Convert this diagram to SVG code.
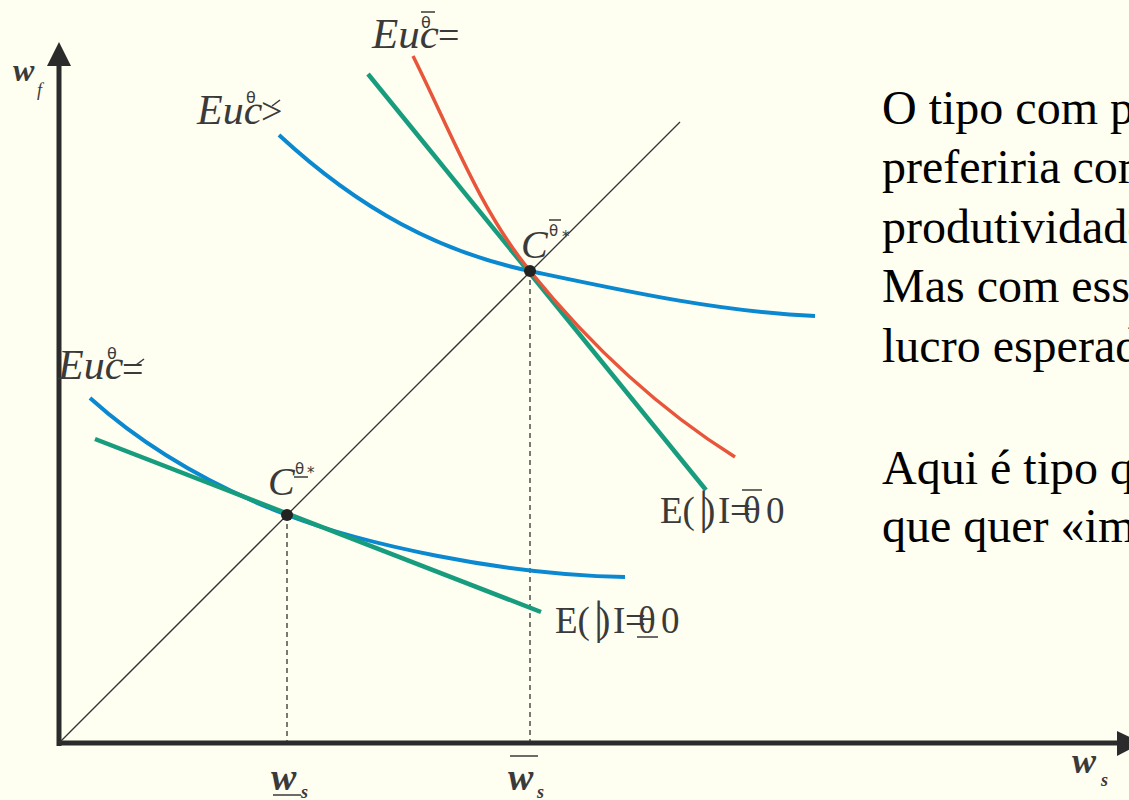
<svg xmlns="http://www.w3.org/2000/svg" width="1129" height="800" viewBox="0 0 1129 800">
<style>
.lbl{font-family:"Liberation Serif","Times New Roman",serif;fill:#3a3a3a}
.it{font-style:italic}
.sm{font-family:"DejaVu Sans","Liberation Sans",sans-serif;fill:#3a3a3a}
.body{font-family:"Liberation Serif","Times New Roman",serif;font-size:48px;fill:#000}
.axis{stroke:#2b2b2b;stroke-width:5;fill:none}
.dash{stroke:#333;stroke-width:1.3;stroke-dasharray:5 4;fill:none}
.blue{stroke:#0a88d0;stroke-width:4;fill:none}
.green{stroke:#179c7d;stroke-width:4.5;fill:none}
.red{stroke:#e8553a;stroke-width:3.5;fill:none}
.bar{stroke:#3a3a3a;stroke-width:1.5}
</style>
<rect width="1129" height="800" fill="#fefef1"/>

<g id="axes">
<line class="axis" x1="59" y1="746" x2="59" y2="64"/>
<polygon points="59,42 47,66 71,66" fill="#2b2b2b"/>
<line class="axis" x1="57" y1="743" x2="1120" y2="743"/>
<polygon points="1117,731 1117,756 1142,743" fill="#2b2b2b"/>
<text class="lbl it" x="13" y="81" font-size="32" font-weight="bold">w</text>
<text class="lbl it" x="37" y="96" font-size="18">f</text>
<text class="lbl it" x="1072" y="773" font-size="36" font-weight="bold">w</text>
<text class="lbl it" x="1101" y="786" font-size="18" font-weight="bold">s</text>
</g>

<g id="connectors">
<line x1="59" y1="743" x2="680" y2="122" stroke="#333" stroke-width="1.3"/>
<line class="dash" x1="287" y1="515" x2="287" y2="741"/>
<line class="dash" x1="530" y1="271" x2="530" y2="741"/>
<path class="blue" d="M279,135 C360,210 440,252 530,271 C620,290 720,312 815,316"/>
<path class="blue" d="M90,398 C150,452 222,490 287,515 C360,543 500,575 625,577"/>
<line class="green" x1="368" y1="74" x2="706" y2="490"/>
<line class="green" x1="95" y1="439" x2="541" y2="612"/>
<path class="red" d="M413,56 C450,130 480,210 530,271 C590,345 660,410 735,457"/>
</g>

<g id="point-upper">
<circle cx="530" cy="271" r="6" fill="#222"/>
<text class="lbl it" x="521" y="258" font-size="40">C</text>
<text class="sm" x="549" y="236" font-size="15">θ</text>
<line class="bar" x1="549" y1="220" x2="561" y2="220"/>
<text class="sm" x="562" y="242" font-size="15">*</text>
</g>

<g id="point-lower">
<circle cx="287" cy="515" r="6" fill="#222"/>
<text class="lbl it" x="268" y="495" font-size="40">C</text>
<text class="sm" x="295" y="474" font-size="15">θ</text>
<line class="bar" x1="294" y1="477" x2="308" y2="477"/>
<text class="sm" x="307" y="478" font-size="15">*</text>
</g>

<g id="label-top">
<text class="lbl it" x="372" y="48" font-size="43">Euc</text>
<text class="sm" x="421" y="28" font-size="16">θ</text>
<line class="bar" x1="421" y1="12" x2="435" y2="12"/>
<text class="lbl" x="438" y="48" font-size="38">=</text>
</g>

<g id="label-mid">
<text class="lbl it" x="197" y="124" font-size="42">Euc</text>
<text class="sm" x="246" y="103" font-size="16">θ</text>
<text class="lbl" x="261" y="124" font-size="38">&gt;</text>
<path d="M272,106 L280,100" stroke="#3a3a3a" stroke-width="1.5"/>
</g>

<g id="label-low">
<text class="lbl it" x="58" y="379" font-size="42">Euc</text>
<text class="sm" x="107" y="359" font-size="16">θ</text>
<text class="lbl" x="122" y="382" font-size="38">=</text>
<path d="M136,365 L144,359" stroke="#3a3a3a" stroke-width="1.5"/>
</g>

<g id="label-profit-upper">
<text class="lbl" y="523" font-size="37"><tspan x="660">E(</tspan><tspan x="699" font-size="46">|</tspan><tspan x="703">)</tspan><tspan x="718">I</tspan><tspan x="730">=</tspan><tspan x="743">θ</tspan><tspan x="766">0</tspan></text>
<line class="bar" x1="742" y1="490" x2="762" y2="490"/>
</g>

<g id="label-profit-lower">
<text class="lbl" y="633" font-size="37"><tspan x="555">E(</tspan><tspan x="594" font-size="46">|</tspan><tspan x="598">)</tspan><tspan x="613">I</tspan><tspan x="625">=</tspan><tspan x="638">θ</tspan><tspan x="661">0</tspan></text>
<line class="bar" x1="637" y1="637" x2="658" y2="637"/>
</g>

<g id="ticks">
<text class="lbl it" x="271" y="790" font-size="38" font-weight="bold">w</text>
<line class="bar" x1="273" y1="795" x2="301" y2="795" stroke-width="2"/>
<text class="lbl it" x="301" y="798" font-size="18" font-weight="bold">s</text>
<text class="lbl it" x="508" y="790" font-size="38" font-weight="bold">w</text>
<line class="bar" x1="510" y1="756" x2="538" y2="756" stroke-width="2"/>
<text class="lbl it" x="537" y="798" font-size="18" font-weight="bold">s</text>
</g>

<g id="text-block">
<text class="body" x="882" y="124">O tipo com p</text>
<text class="body" x="882" y="183">preferiria com</text>
<text class="body" x="882" y="243">produtividade</text>
<text class="body" x="882" y="302">Mas com esse</text>
<text class="body" x="882" y="362">lucro esperado</text>
<text class="body" x="882" y="484">Aqui é tipo q</text>
<text class="body" x="882" y="542">que quer «im</text>
</g>
</svg>
